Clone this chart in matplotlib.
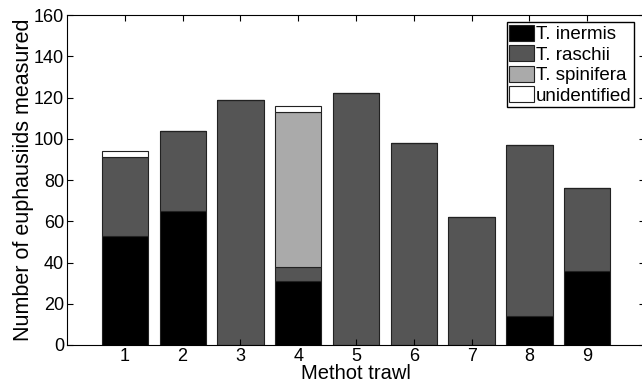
import numpy as np
import matplotlib.pyplot as plt

plt.rcParams['font.family'] = ['Liberation Sans', 'DejaVu Sans']

# stacked counts per Methot trawl
trawls = [1, 2, 3, 4, 5, 6, 7, 8, 9]
inermis = [53, 65, 0, 31, 0, 0, 0, 14, 36]
raschii = [38, 39, 119, 7, 122, 98, 62, 83, 40]
spinifera = [0, 0, 0, 75, 0, 0, 0, 0, 0]
unidentified = [3, 0, 0, 3, 0, 0, 0, 0, 0]
names = ['T. inermis', 'T. raschii', 'T. spinifera', 'unidentified']
colors = ['#000000', '#555555', '#aaaaaa', '#ffffff']

fig = plt.figure(figsize=(6.42, 3.85), dpi=100)
ax = fig.add_axes([0.1044, 0.1039, 0.9003, 0.857])

bottom = np.zeros(len(trawls))
for vals, name, c in zip([inermis, raschii, spinifera, unidentified], names, colors):
    ax.bar(trawls, vals, 0.8, bottom=bottom, color=c, edgecolor='#222222',
           linewidth=0.8, label=name)
    bottom += np.array(vals)

ax.set_xlim(0, 10)
ax.set_ylim(0, 160)
ax.set_xticks(trawls)
ax.set_yticks(range(0, 161, 20))
ax.tick_params(direction='in', top=True, right=True, labelsize=13, length=4, pad=2)
ax.set_xlabel('Methot trawl', fontsize=14.5, labelpad=-0.5)
ax.set_ylabel('Number of euphausiids measured', fontsize=15.5, labelpad=0)
ax.legend(loc='upper right', bbox_to_anchor=(0.981, 0.979), fontsize=13.5,
          fancybox=False, framealpha=1, edgecolor='black', borderpad=0.15,
          handlelength=1.3, handleheight=0.95, handletextpad=0.1,
          labelspacing=0.1, borderaxespad=0)

fig.savefig('out.png', dpi=100)
